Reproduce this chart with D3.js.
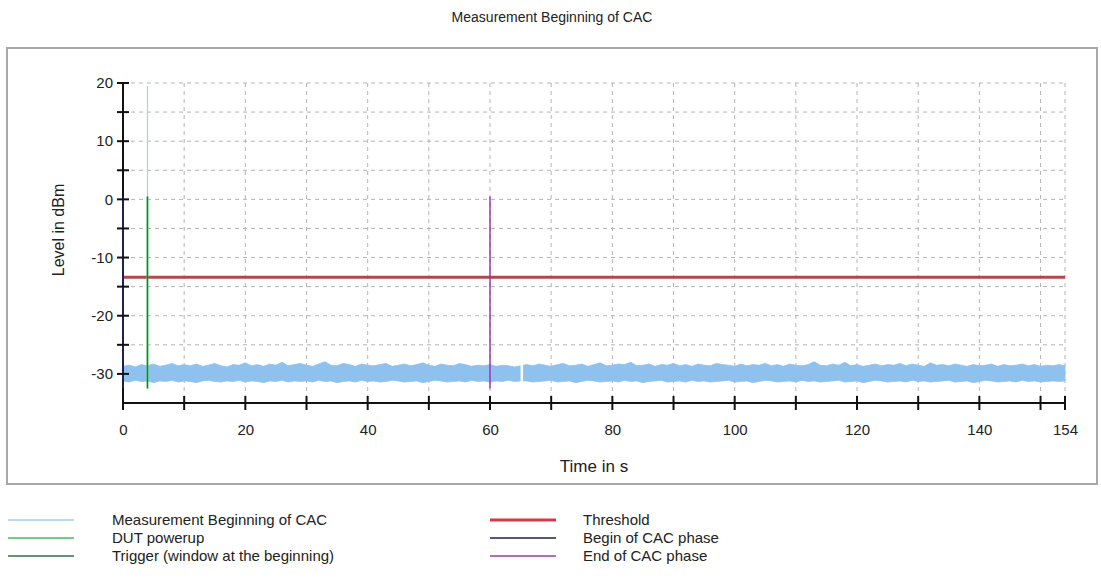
<!DOCTYPE html>
<html><head><meta charset="utf-8">
<script src="https://cdn.jsdelivr.net/npm/d3@7"></script>
<style>body{margin:0;background:#fff}svg{display:block;font-family:"Liberation Sans",Arial,sans-serif}</style>
</head><body><svg id="c" width="1101" height="587"></svg>
<script>
const title = "Measurement Beginning of CAC";
const xLabel = "Time in s", yLabel = "Level in dBm";
const xTickLabels = [0,20,40,60,80,100,120,140,154];
const xTickMarks = [0,10,20,30,40,50,60,70,80,90,100,110,120,130,140,150,154];
const yTickLabels = [20,10,0,-10,-20,-30];
const yTickMarks = [20,15,10,5,0,-5,-10,-15,-20,-25,-30];
const threshold = -13.4;
// noise envelope of the measurement trace, one sample per second (t = 0..154)
const noiseHi = [-28.7,-28.5,-28.8,-28.4,-28.6,-28.3,-28.7,-28.5,-28.2,-28.6,-28.4,-28.6,-28.3,-28.7,-28.5,-28.2,-28.6,-28.8,-28.4,-28.5,
 -28.1,-28.6,-28.4,-28.7,-28.3,-28.5,-28.0,-28.6,-28.4,-28.2,-28.5,-28.7,-28.3,-27.9,-28.5,-28.6,-28.2,-28.4,-28.7,-28.3,
 -28.5,-28.6,-28.4,-28.2,-28.7,-28.5,-28.3,-28.6,-28.4,-28.1,-28.5,-28.7,-28.3,-28.5,-28.6,-28.2,-28.4,-28.7,-28.5,-28.6,
 -28.4,-28.7,-28.5,-28.6,-28.8,-28.6,-28.4,-28.6,-28.3,-28.5,-28.7,-28.4,-28.2,-28.6,-28.5,-28.3,-28.7,-28.4,-28.1,-28.6,
 -28.5,-28.3,-28.4,-28.0,-28.6,-28.5,-28.3,-28.7,-28.4,-28.5,-28.2,-28.6,-28.4,-28.7,-28.3,-28.5,-28.6,-28.2,-28.4,-28.5,
 -28.7,-28.3,-28.6,-28.4,-28.5,-28.2,-28.6,-28.4,-28.7,-28.3,-28.5,-28.6,-28.4,-27.9,-28.5,-28.6,-28.3,-28.5,-28.0,-28.6,
 -28.4,-28.7,-28.5,-28.3,-28.6,-28.4,-28.5,-28.2,-28.6,-28.3,-28.5,-28.7,-28.1,-28.5,-28.4,-28.6,-28.3,-28.5,-28.7,-28.4,
 -28.6,-28.5,-28.3,-28.7,-28.4,-28.6,-28.5,-28.3,-28.6,-28.4,-28.7,-28.5,-28.6,-28.4,-28.6];
const noiseLo = [-31.2,-31.4,-31.1,-31.3,-31.2,-31.5,-31.2,-31.3,-31.1,-31.4,-31.2,-31.3,-31.5,-31.2,-31.1,-31.3,-31.4,-31.2,-31.3,-31.1,
 -31.4,-31.2,-31.3,-31.5,-31.2,-31.3,-31.1,-31.4,-31.2,-31.3,-31.2,-31.4,-31.1,-31.3,-31.2,-31.5,-31.3,-31.2,-31.4,-31.1,
 -31.3,-31.2,-31.4,-31.3,-31.1,-31.2,-31.4,-31.3,-31.2,-31.5,-31.3,-31.1,-31.2,-31.4,-31.3,-31.2,-31.4,-31.1,-31.3,-31.2,
 -31.4,-31.2,-31.3,-31.1,-31.3,-31.2,-31.2,-31.4,-31.3,-31.2,-31.1,-31.4,-31.3,-31.2,-31.5,-31.3,-31.1,-31.2,-31.4,-31.3,
 -31.2,-31.4,-31.1,-31.3,-31.2,-31.5,-31.3,-31.2,-31.1,-31.4,-31.3,-31.2,-31.4,-31.1,-31.3,-31.2,-31.4,-31.3,-31.2,-31.1,
 -31.4,-31.3,-31.2,-31.5,-31.3,-31.1,-31.2,-31.4,-31.3,-31.2,-31.4,-31.1,-31.3,-31.2,-31.4,-31.3,-31.2,-31.1,-31.4,-31.3,
 -31.2,-31.5,-31.3,-31.1,-31.2,-31.4,-31.3,-31.2,-31.4,-31.1,-31.3,-31.2,-31.4,-31.3,-31.2,-31.1,-31.4,-31.3,-31.2,-31.5,
 -31.3,-31.1,-31.2,-31.4,-31.3,-31.2,-31.4,-31.1,-31.3,-31.2,-31.4,-31.3,-31.2,-31.3,-31.2];
// short dropouts in the trace (time in s)
const gaps = [65.2];
// vertical marker lines: [time, from level, to level]
const measMarker = [4, 19.5, -30];
const dutPowerup = [4, 0.5, -32.5];
const trigger = [4, 0.5, -32.5];
const beginCAC = [0, 0.5, -32.5];
const endCAC = [60, 0.5, -32.5];
const legendNames = ["Measurement Beginning of CAC","DUT powerup","Trigger (window at the beginning)","Threshold","Begin of CAC phase","End of CAC phase"];
const legendColors = ["#a9cdea","#3fbf5f","#2f6e47","#d23a4a","#1c1f4f","#9b3aa8"];

const svg = d3.select("#c");
const X0 = 123, X1 = 1065, Y0 = 83, Y1 = 403;
const x = d3.scaleLinear().domain([0,154]).range([X0,X1]);
const y = d3.scaleLinear().domain([-35,20]).range([Y1,Y0]);

svg.append("rect").attr("x",7).attr("y",48).attr("width",1090).attr("height",436)
  .attr("fill","#fff").attr("stroke","#a8a8a8").attr("stroke-width",2);

svg.append("text").attr("x",552).attr("y",22).attr("text-anchor","middle")
  .attr("font-size",14).attr("fill","#222").text(title);

// grid
const gv = xTickMarks.filter(d=>d>0);
svg.append("g").selectAll("line").data(gv).join("line")
  .attr("x1",d=>x(d)).attr("x2",d=>x(d)).attr("y1",y(20)).attr("y2",Y1)
  .attr("stroke","#b4b4b4").attr("stroke-dasharray","4,4");
svg.append("g").selectAll("line").data(yTickMarks).join("line")
  .attr("x1",X0).attr("x2",x(154)).attr("y1",d=>y(d)).attr("y2",d=>y(d))
  .attr("stroke","#b4b4b4").attr("stroke-dasharray","4,4");

// noise band
const pts = noiseHi.map((h,i)=>({t:i,hi:h,lo:noiseLo[i]}));
svg.append("path").datum(pts)
  .attr("d", d3.area().x(d=>x(d.t)).y0(d=>y(d.lo)).y1(d=>y(d.hi)))
  .attr("fill","#8ec1ee").attr("stroke","#8ec1ee").attr("stroke-width",0.8);
svg.append("g").selectAll("line").data(gaps).join("line")
  .attr("x1",d=>x(d)).attr("x2",d=>x(d)).attr("y1",y(-27.5)).attr("y2",y(-32))
  .attr("stroke","#fff").attr("stroke-width",2.5);

function vline(m,color,w){
  svg.append("line").attr("x1",x(m[0])).attr("x2",x(m[0])).attr("y1",y(m[1])).attr("y2",y(m[2]))
    .attr("stroke",color).attr("stroke-width",w);
}
vline(measMarker,legendColors[0],1.2);
svg.append("line").attr("x1",x(0)).attr("x2",x(154)).attr("y1",y(threshold)).attr("y2",y(threshold))
  .attr("stroke","#b4474c").attr("stroke-width",3);
vline(dutPowerup,legendColors[1],2);
vline(trigger,legendColors[2],1);
vline(endCAC,legendColors[5],1.5);

// axes
const yAxis = d3.axisLeft(y).tickValues(yTickMarks).tickSize(0).tickFormat(d=>yTickLabels.includes(d)?d:"");
const gy = svg.append("g").attr("transform",`translate(${X0},0)`).call(yAxis);
gy.select(".domain").remove();
gy.selectAll("text").attr("font-size",15).attr("fill","#222").attr("x",-10).attr("font-family","Liberation Sans, Arial, sans-serif");
svg.append("line").attr("x1",X0).attr("x2",X0).attr("y1",Y0).attr("y2",Y1).attr("stroke","#111").attr("stroke-width",2);
vline(beginCAC,legendColors[4],2);
svg.append("g").selectAll("line").data(yTickMarks).join("line")
  .attr("x1",X0-6).attr("x2",X0+6).attr("y1",d=>y(d)).attr("y2",d=>y(d)).attr("stroke","#111").attr("stroke-width",2);

const xAxis = d3.axisBottom(x).tickValues(xTickLabels).tickSize(0);
const gx = svg.append("g").attr("transform",`translate(0,${Y1})`).call(xAxis);
gx.select(".domain").remove();
gx.selectAll("text").attr("font-size",15).attr("fill","#222").attr("y",27).attr("dy","0.32em").attr("font-family","Liberation Sans, Arial, sans-serif");
svg.append("line").attr("x1",X0).attr("x2",X1).attr("y1",Y1).attr("y2",Y1).attr("stroke","#111").attr("stroke-width",2);
svg.append("g").selectAll("line").data(xTickMarks).join("line")
  .attr("x1",d=>x(d)).attr("x2",d=>x(d)).attr("y1",Y1-7).attr("y2",Y1+7).attr("stroke","#111").attr("stroke-width",2);

svg.append("text").attr("x",(X0+X1)/2).attr("y",472).attr("text-anchor","middle")
  .attr("font-size",17).attr("fill","#222").text(xLabel);
svg.append("text").attr("transform","translate(64,230) rotate(-90)").attr("text-anchor","middle")
  .attr("font-size",16).attr("fill","#222").text(yLabel);

// legend
const lg = svg.append("g");
legendNames.forEach((n,i)=>{
  const col = Math.floor(i/3), row = i%3;
  const lx = col ? 490 : 8, tx = col ? 583 : 112, ly = 520 + row*18;
  lg.append("line").attr("x1",lx).attr("x2",lx+66).attr("y1",ly).attr("y2",ly)
    .attr("stroke",legendColors[i]).attr("stroke-width", i===3?3:1.5);
  lg.append("text").attr("x",tx).attr("y",ly+5).attr("font-size",15).attr("fill","#222").text(n);
});
</script></body></html>
